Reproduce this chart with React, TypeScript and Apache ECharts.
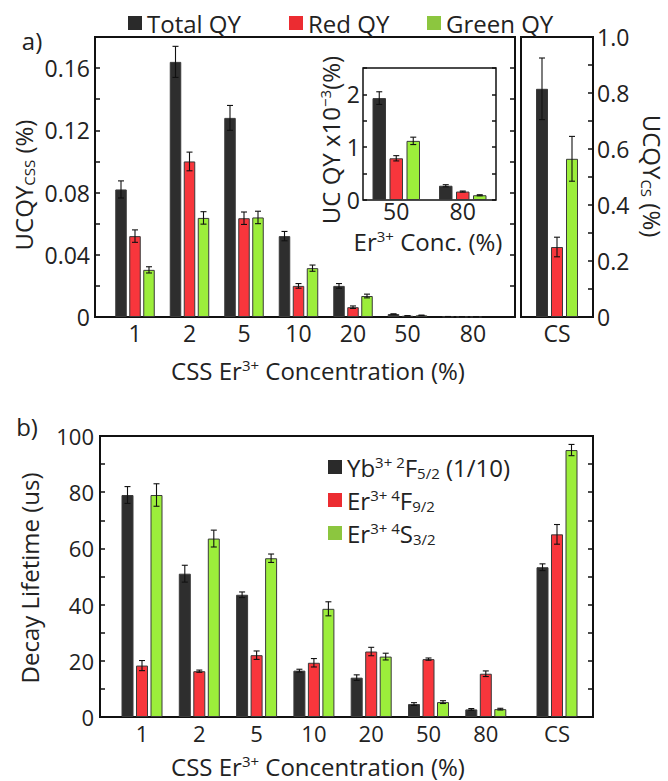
import React, { useEffect, useRef } from 'react';
import * as echarts from 'echarts';

// ---------- data: panel a (upconversion quantum yield, %) ----------
const concA = ['1', '2', '5', '10', '20', '50', '80'];
const totalQY = [0.082, 0.164, 0.128, 0.052, 0.02, 0.0019, 0.0003];
const totalQYErr = [0.0055, 0.01, 0.008, 0.003, 0.0015, 0.0001, 0.00002];
const redQY = [0.052, 0.1, 0.0635, 0.02, 0.0063, 0.0008, 0.00016];
const redQYErr = [0.004, 0.006, 0.004, 0.0015, 0.0008, 0.00005, 0.00001];
const greenQY = [0.0303, 0.0637, 0.064, 0.0314, 0.0135, 0.0011, 0.00009];
const greenQYErr = [0.002, 0.004, 0.004, 0.002, 0.0012, 0.00007, 0.00001];

const csCat = ['CS'];
const totalQYcs = [0.815];
const totalQYcsErr = [0.11];
const redQYcs = [0.25];
const redQYcsErr = [0.035];
const greenQYcs = [0.565];
const greenQYcsErr = [0.08];

// inset (x10^-3 %)
const insetConc = ['50', '80'];
const insetTotal = [1.93, 0.27];
const insetTotalErr = [0.12, 0.02];
const insetRed = [0.79, 0.16];
const insetRedErr = [0.05, 0.01];
const insetGreen = [1.12, 0.09];
const insetGreenErr = [0.07, 0.01];

// ---------- data: panel b (decay lifetime, us) ----------
const concB = ['1', '2', '5', '10', '20', '50', '80'];
const ybLife = [79, 51, 43.5, 16.5, 14, 4.6, 2.7];
const ybLifeErr = [3, 3, 1, 0.5, 1, 0.5, 0.3];
const erFLife = [18.3, 16.3, 22, 19.3, 23.3, 20.6, 15.4];
const erFLifeErr = [1.8, 0.4, 1.5, 1.5, 1.5, 0.4, 1];
const erSLife = [79, 63.5, 56.5, 38.5, 21.5, 5.3, 2.8];
const erSLifeErr = [4, 3, 1.5, 2.5, 1.2, 0.5, 0.3];
const ybLifeCS = [53.3];
const ybLifeCSErr = [1.2];
const erFLifeCS = [65];
const erFLifeCSErr = [3.5];
const erSLifeCS = [95];
const erSLifeCSErr = [2];

// tick labels
const yTicksA = [0, 0.04, 0.08, 0.12, 0.16];
const yTicksCS = [0, 0.2, 0.4, 0.6, 0.8, 1.0];
const yTicksInset = [0, 1, 2];
const yTicksB = [0, 20, 40, 60, 80, 100];

const FONT = 'Open Sans';
const INK = '#222';
const C_BLACK = '#2e2e2e';
const C_RED = '#f8363c';
const C_GREEN = '#9cee3b';
const C_EDGE = '#3a3a3a';

function labelFor(ticks: number[], dec: number) {
  return (v: number) => {
    const t = ticks.find((k) => Math.abs(k - v) < 1e-9);
    if (t === undefined) return '';
    return t === 0 ? '0' : t.toFixed(dec);
  };
}

function barSeries(name: string, xi: number, yi: number, data: number[], color: string, w: number, gap: number) {
  return {
    type: 'bar',
    name,
    xAxisIndex: xi,
    yAxisIndex: yi,
    data,
    barWidth: w,
    barGap: `${(gap / w) * 100}%`,
    itemStyle: { color, borderColor: C_EDGE, borderWidth: 1 },
    silent: true,
    z: 2,
  };
}

function errSeries(xi: number, yi: number, vals: number[], errs: number[], offset: number) {
  return {
    type: 'custom',
    xAxisIndex: xi,
    yAxisIndex: yi,
    silent: true,
    z: 4,
    data: vals.map((v, i) => [i, v, errs[i]]),
    renderItem: (_p: any, api: any) => {
      const i = api.value(0);
      const v = api.value(1);
      const e = api.value(2);
      const top = api.coord([i, v + e]);
      const bot = api.coord([i, Math.max(0, v - e)]);
      const x = top[0] + offset;
      const c = 3;
      const st = { stroke: '#111', lineWidth: 1.1 };
      return {
        type: 'group',
        children: [
          { type: 'line', shape: { x1: x, y1: top[1], x2: x, y2: bot[1] }, style: st },
          { type: 'line', shape: { x1: x - c, y1: top[1], x2: x + c, y2: top[1] }, style: st },
          { type: 'line', shape: { x1: x - c, y1: bot[1], x2: x + c, y2: bot[1] }, style: st },
        ],
      };
    },
  };
}

function group3(
  names: string[],
  xi: number,
  yi: number,
  vals: number[][],
  errs: number[][],
  w: number,
  gap: number
) {
  const colors = [C_BLACK, C_RED, C_GREEN];
  const out: any[] = [];
  for (let k = 0; k < 3; k++) out.push(barSeries(names[k], xi, yi, vals[k], colors[k], w, gap));
  for (let k = 0; k < 3; k++) out.push(errSeries(xi, yi, vals[k], errs[k], (k - 1) * (w + gap)));
  return out;
}

const tick = { show: true, inside: true, length: 5, lineStyle: { color: '#111', width: 1.5 } };
const noTick = { show: false };
const noLine = { show: false };
const noSplit = { show: false };

const gRich = {
  n: { fontSize: 24, lineHeight: 26, fontFamily: FONT, fill: INK },
  sup: { fontSize: 15, lineHeight: 23, verticalAlign: 'top', fontFamily: FONT, fill: INK },
  sub: { fontSize: 15, lineHeight: 2, verticalAlign: 'bottom', fontFamily: FONT, fill: INK },
};
const cRich = {
  n: { fontSize: 24, lineHeight: 26, fontFamily: FONT, color: INK },
  sup: { fontSize: 15, lineHeight: 23, verticalAlign: 'top', fontFamily: FONT, color: INK },
  sub: { fontSize: 15, lineHeight: 2, verticalAlign: 'bottom', fontFamily: FONT, color: INK },
};

function gText(x: number, y: number, text: string, rotation = 0) {
  return {
    type: 'text',
    x,
    y,
    rotation,
    silent: true,
    z: 10,
    style: {
      text,
      fontFamily: FONT,
      fontSize: 24,
      fill: INK,
      align: 'center',
      verticalAlign: 'middle',
      rich: gRich,
    },
  };
}

const legendBText: Record<string, string> = {
  Yb: '{n|Yb}{sup|3+ 2}{n|F}{sub|5/2}{n| (1/10)}',
  Er4F: '{n|Er}{sup|3+ 4}{n|F}{sub|9/2}',
  Er4S: '{n|Er}{sup|3+ 4}{n|S}{sub|3/2}',
};

function buildOption() {
  const tickFontA = { fontFamily: FONT, fontSize: 23, color: INK };
  const tickFontB = { fontFamily: FONT, fontSize: 22, color: INK };
  const legendA = (name: string, left: number, color: string) => ({
    left,
    top: 11,
    padding: 0,
    icon: 'rect',
    itemWidth: 14,
    itemHeight: 14,
    selectedMode: false,
    data: [{ name, itemStyle: { color, borderWidth: 0 } }],
    textStyle: { fontFamily: FONT, fontSize: 24, color: INK },
  });

  return {
    animation: false,
    backgroundColor: '#fff',
    grid: [
      // 0 panel a main frame
      { left: 95, top: 37, width: 420, height: 280, show: true, borderColor: '#111', borderWidth: 2 },
      // 1 panel a main bars
      { left: 107.75, top: 37, width: 381.5, height: 280 },
      // 2 panel a CS frame + bars
      { left: 521, top: 37, width: 72, height: 280, show: true, borderColor: '#111', borderWidth: 2 },
      // 3 inset
      { left: 363, top: 68, width: 133, height: 132, show: true, borderColor: '#111', borderWidth: 1.5, backgroundColor: '#fff' },
      // 4 panel b frame
      { left: 100, top: 436, width: 493, height: 281, show: true, borderColor: '#111', borderWidth: 2 },
      // 5 panel b bars
      { left: 113.35, top: 436, width: 401.1, height: 281 },
      // 6 panel b CS bars
      { left: 528.5, top: 436, width: 57, height: 281 },
    ],
    xAxis: [
      { gridIndex: 0, type: 'value', show: false, min: 0, max: 1 },
      {
        gridIndex: 1,
        type: 'category',
        data: concA,
        axisLine: noLine,
        axisTick: noTick,
        axisLabel: {
          ...tickFontA,
          margin: 4,
          interval: 0,
          formatter: (v: string, i: number) => (i === concA.length - 1 ? `{far|${v}}` : v),
          rich: { far: { ...tickFontA, padding: [0, 0, 0, 22] } },
        },
      },
      { gridIndex: 2, type: 'category', data: csCat, axisLine: noLine, axisTick: noTick, axisLabel: { ...tickFontA, margin: 4 } },
      { gridIndex: 3, type: 'category', data: insetConc, axisLine: noLine, axisTick: noTick, axisLabel: { ...tickFontA, margin: 1, lineHeight: 20 } },
      { gridIndex: 4, type: 'value', show: false, min: 0, max: 1 },
      { gridIndex: 5, type: 'category', data: concB, axisLine: noLine, axisTick: noTick, axisLabel: { ...tickFontB, margin: 5, interval: 0 } },
      { gridIndex: 6, type: 'category', data: csCat, axisLine: noLine, axisTick: noTick, axisLabel: { ...tickFontB, margin: 5 } },
    ],
    yAxis: [
      // 0 panel a left
      {
        gridIndex: 0, type: 'value', min: 0, max: 0.18, interval: 0.02,
        axisLine: noLine, axisTick: tick, splitLine: noSplit,
        axisLabel: { ...tickFontA, margin: 5, formatter: labelFor(yTicksA, 2) },
      },
      // 1 panel a main right ticks
      {
        gridIndex: 0, type: 'value', position: 'right', min: 0, max: 0.18, interval: 0.02,
        axisLine: noLine, axisTick: tick, splitLine: noSplit, axisLabel: { show: false },
      },
      // 2 panel a bars (hidden)
      { gridIndex: 1, type: 'value', show: false, min: 0, max: 0.18 },
      // 3 CS right axis
      {
        gridIndex: 2, type: 'value', position: 'right', min: 0, max: 1, interval: 0.1,
        axisLine: noLine, axisTick: tick, splitLine: noSplit,
        axisLabel: { ...tickFontA, margin: 4, formatter: labelFor(yTicksCS, 1) },
      },
      // 4 inset left
      {
        gridIndex: 3, type: 'value', min: 0, max: 2.5, interval: 0.5,
        axisLine: noLine, axisTick: { ...tick, length: 4 }, splitLine: noSplit,
        axisLabel: { ...tickFontA, margin: 3, formatter: labelFor(yTicksInset, 0) },
      },
      // 5 inset right ticks
      {
        gridIndex: 3, type: 'value', position: 'right', min: 0, max: 2.5, interval: 0.5,
        axisLine: noLine, axisTick: { ...tick, length: 4 }, splitLine: noSplit, axisLabel: { show: false },
      },
      // 6 panel b left
      {
        gridIndex: 4, type: 'value', min: 0, max: 100, interval: 10,
        axisLine: noLine, axisTick: tick, splitLine: noSplit,
        axisLabel: { ...tickFontB, margin: 6, formatter: labelFor(yTicksB, 0) },
      },
      // 7 panel b right ticks
      {
        gridIndex: 4, type: 'value', position: 'right', min: 0, max: 100, interval: 10,
        axisLine: noLine, axisTick: tick, splitLine: noSplit, axisLabel: { show: false },
      },
      // 8 panel b bars (hidden)
      { gridIndex: 5, type: 'value', show: false, min: 0, max: 100 },
      // 9 panel b CS bars (hidden)
      { gridIndex: 6, type: 'value', show: false, min: 0, max: 100 },
    ],
    legend: [
      legendA('Total QY', 128, '#2a2a2a'),
      legendA('Red QY', 289, '#ec2c31'),
      legendA('Green QY', 427, '#8cc63f'),
      {
        left: 328,
        top: 454,
        padding: 0,
        orient: 'vertical',
        icon: 'rect',
        itemWidth: 14,
        itemHeight: 14,
        itemGap: 7,
        selectedMode: false,
        data: [
          { name: 'Yb', itemStyle: { color: '#2a2a2a', borderWidth: 0 } },
          { name: 'Er4F', itemStyle: { color: '#ec2c31', borderWidth: 0 } },
          { name: 'Er4S', itemStyle: { color: '#8cc63f', borderWidth: 0 } },
        ],
        formatter: (name: string) => legendBText[name],
        textStyle: { fontFamily: FONT, fontSize: 24, color: INK, rich: cRich },
      },
    ],
    series: [
      ...group3(['Total QY', 'Red QY', 'Green QY'], 1, 2, [totalQY, redQY, greenQY], [totalQYErr, redQYErr, greenQYErr], 11.5, 2.5),
      ...group3(['Total QY', 'Red QY', 'Green QY'], 2, 3, [totalQYcs, redQYcs, greenQYcs], [totalQYcsErr, redQYcsErr, greenQYcsErr], 12, 3),
      ...group3(['Total QY', 'Red QY', 'Green QY'], 3, 4, [insetTotal, insetRed, insetGreen], [insetTotalErr, insetRedErr, insetGreenErr], 13.5, 3.5),
      ...group3(['Yb', 'Er4F', 'Er4S'], 5, 8, [ybLife, erFLife, erSLife], [ybLifeErr, erFLifeErr, erSLifeErr], 12, 2.5),
      ...group3(['Yb', 'Er4F', 'Er4S'], 6, 9, [ybLifeCS, erFLifeCS, erSLifeCS], [ybLifeCSErr, erFLifeCSErr, erSLifeCSErr], 12, 2.5),
    ],
    graphic: [
      gText(32, 40, '{n|a)}'),
      gText(27, 426, '{n|b)}'),
      gText(23, 185, '{n|UCQY}{sub|CSS}{n| (%)}', Math.PI / 2),
      gText(652, 176, '{n|UCQY}{sub|CS}{n| (%)}', -Math.PI / 2),
      gText(330, 140, '{n|UC QY x10}{sup|\u22123}{n|(%)}', Math.PI / 2),
      gText(428, 241, '{n|Er}{sup|3+}{n| Conc. (%)}'),
      gText(318, 370, '{n|CSS Er}{sup|3+}{n| Concentration (%)}'),
      gText(29, 578, '{n|Decay Lifetime (us)}', Math.PI / 2),
      gText(318, 766, '{n|CSS Er}{sup|3+}{n| Concentration (%)}'),
    ],
  };
}

export default function App() {
  const ref = useRef<HTMLDivElement>(null);
  useEffect(() => {
    if (!ref.current) return;
    const chart = echarts.init(ref.current, null, { renderer: 'svg' });
    chart.setOption(buildOption() as any);
    return () => chart.dispose();
  }, []);
  return (
    <div
      ref={ref}
      style={{ position: 'fixed', left: 0, top: 0, width: 668, height: 781, background: '#fff' }}
    />
  );
}
